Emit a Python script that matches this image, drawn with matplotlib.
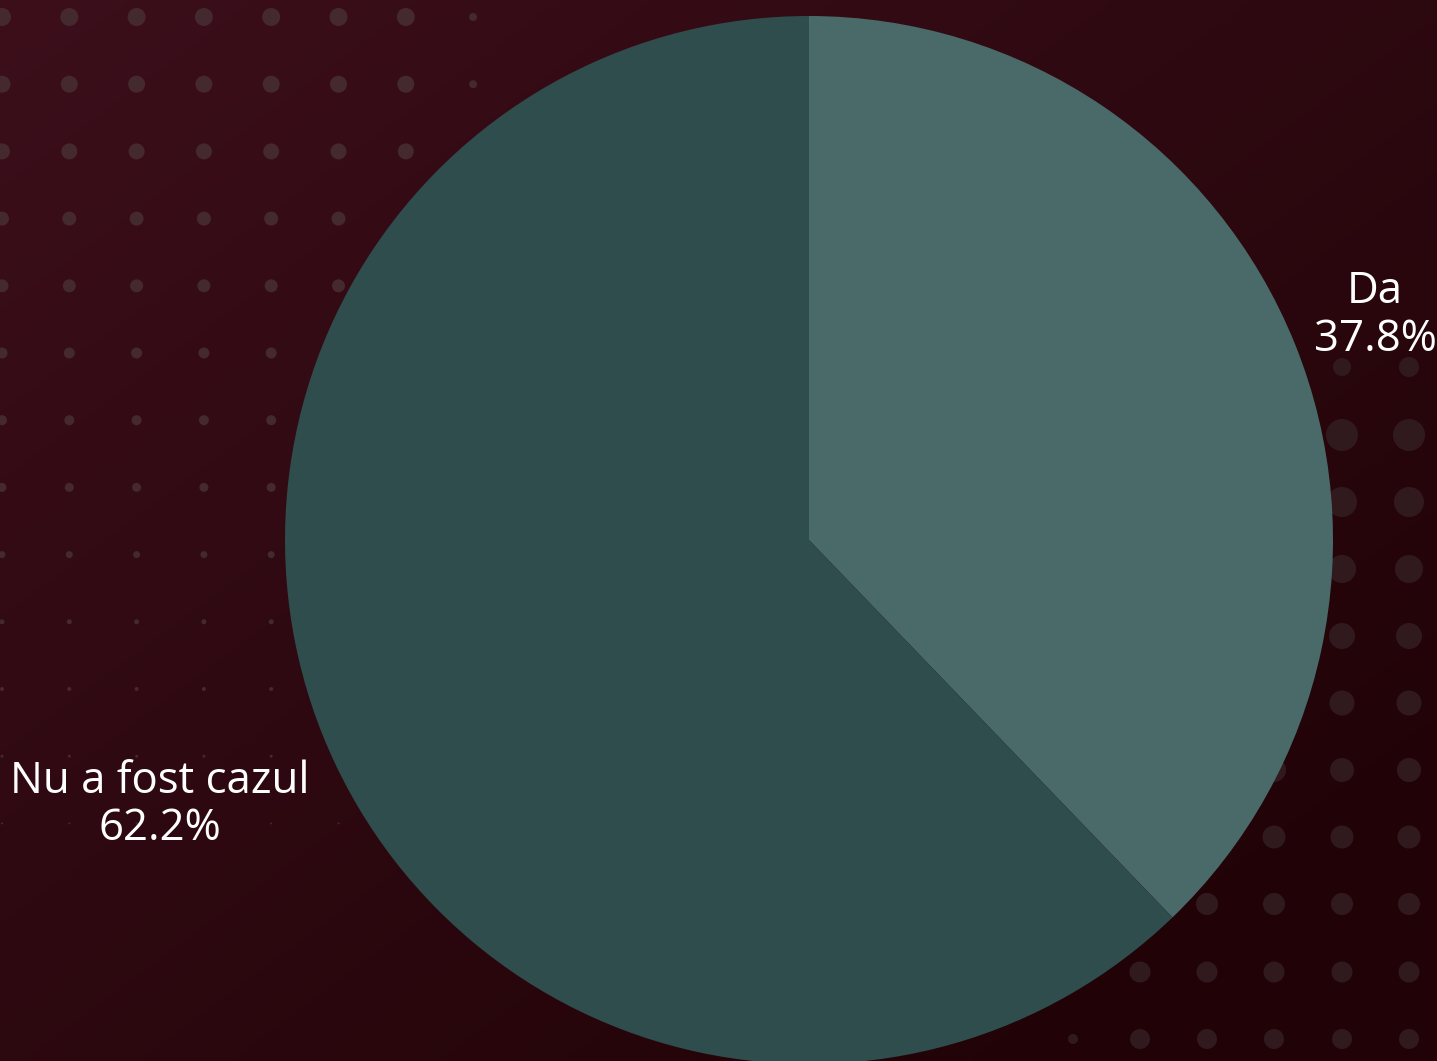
import numpy as np
import matplotlib
matplotlib.use("Agg")
import matplotlib.pyplot as plt
from matplotlib.colors import to_rgb

# ---- data ----
categories = ["Da", "Nu a fost cazul"]
values = [37.8, 62.2]
slice_colors = ["#496A68", "#2F4D4C"]
label_dist = [1.165, 1.335]

W, H = 1437, 1061
fig = plt.figure(figsize=(W / 100, H / 100), dpi=100)
ax = fig.add_axes([0, 0, 1, 1])
ax.set_xlim(0, W)
ax.set_ylim(0, H)
ax.set_aspect("equal")
ax.axis("off")

# background diagonal gradient
c0 = np.array(to_rgb("#3C0F1B"))
c1 = np.array(to_rgb("#210307"))
yy, xx = np.mgrid[0:H:4, 0:W:4]
t = (xx / W * 0.5 + yy / H * 0.5)
t = np.clip(t * 1.15, 0, 1)[..., None]
img = c0 * (1 - t) + c1 * t
ax.imshow(img, extent=[0, W, 0, H], origin="upper", zorder=0, interpolation="bilinear")

# decorative halftone dots (top-left)
tl_x = [2 + 67.3 * i for i in range(8)]
tl_y = [17 + 67.2 * j for j in range(13)]
tl_r = [9, 8.5, 8, 7, 6.5, 5.5, 5, 4.5, 3.5, 2.5, 2, 1.5, 1]
for j, y in enumerate(tl_y):
    for i, x in enumerate(tl_x):
        r = tl_r[j]
        if i == 7:
            if j > 1:
                continue
            r = 4
        ax.add_patch(plt.Circle((x, H - y), r, color="#44292F", lw=0, zorder=1))

# decorative halftone dots (bottom-right)
br_x = [1073, 1140, 1207, 1274, 1342, 1409]
br_y = [367, 435, 502, 569, 636, 703, 770, 837, 904, 972, 1039]
br_r = [10, 16, 15, 14, 13, 12.5, 12, 11.5, 11, 10.5, 10]
for j, y in enumerate(br_y):
    for i, x in enumerate(br_x):
        r = br_r[j]
        if j == 0 and i < 4:
            continue
        if j == 0 and i == 4:
            r = 9
        if i == 0 and j < 10:
            continue
        if i == 0:
            r = 5
        ax.add_patch(plt.Circle((x, H - y), r, color="#311A1E", lw=0, zorder=1))

# pie
cx, cy, R = 809, H - 540, 524
wedges, _ = ax.pie(values, colors=slice_colors, startangle=90, counterclock=False,
                   center=(cx, cy), radius=R, frame=True,
                   wedgeprops=dict(linewidth=0, zorder=2))
for w in wedges:
    w.set_zorder(2)
ax.set_xlim(0, W)
ax.set_ylim(0, H)
ax.axis("off")

for w, cat, v, d in zip(wedges, categories, values, label_dist):
    ang = np.deg2rad((w.theta1 + w.theta2) / 2)
    x = cx + d * R * np.cos(ang)
    y = cy + d * R * np.sin(ang) - 4
    ax.text(x, y, f"{cat}\n{v:.1f}%", ha="center", va="center", color="white",
            fontsize=31.5, family="Open Sans", linespacing=1.08, zorder=5)

fig.savefig("out.png", dpi=100)
